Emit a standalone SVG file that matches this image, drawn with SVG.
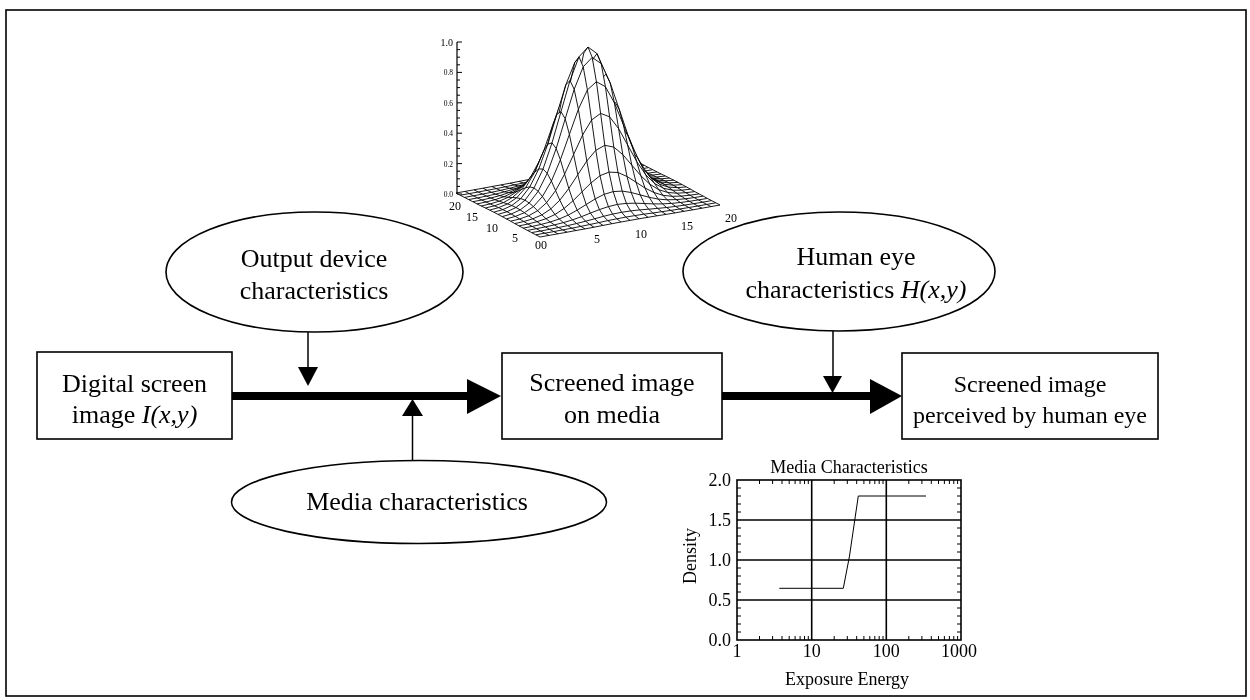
<svg xmlns="http://www.w3.org/2000/svg" width="1250" height="700" viewBox="0 0 1250 700">
<defs>
<style>
.t{font-family:"Liberation Serif","Times New Roman",serif;font-size:26px;text-anchor:middle;fill:#000}
.t24{font-size:24px}
.c{font-family:"Liberation Serif","Times New Roman",serif;font-size:18px;fill:#000}
.s{font-family:"Liberation Serif","Times New Roman",serif;font-size:12px;text-anchor:middle;fill:#000}
.z{font-family:"Liberation Serif","Times New Roman",serif;font-size:7.5px;text-anchor:end;fill:#000}
.box{fill:#fff;stroke:#000;stroke-width:1.6}
.ell{fill:#fff;stroke:#000;stroke-width:1.6}
.thick{stroke:#000;stroke-width:8;fill:none}
.thin{stroke:#000;stroke-width:1.5;fill:none}
.head{fill:#000;stroke:none}
.m{fill:#fff;stroke:#000;stroke-width:0.9;stroke-linejoin:round}
.blend{mix-blend-mode:multiply}
.ax{stroke:#000;stroke-width:1.2;fill:none}
.grid{stroke:#000;stroke-width:1.6;fill:none}
.tick{stroke:#000;stroke-width:1;fill:none}
</style>
</defs>
<rect x="0" y="0" width="1250" height="700" fill="#fff"/>
<rect x="6" y="10" width="1240" height="686" fill="none" stroke="#000" stroke-width="1.6"/>

<g id="surface-plot">
<g id="rows">
<polyline class="m" points="456,193 465,191.4 474,189.8 483,188.2 492,186.5 501,184.9 510,183.2 519,181.4 528,179.7 537,178 546,176.4 555,174.8 564,173.3 573,171.8 582,170.4 591,168.9 600,167.3 609,165.8 618,164.2 627,162.6 636,161"/>
<polyline class="m" points="460.2,195.2 469.2,193.6 478.2,192 487.2,190.3 496.2,188.6 505.2,186.8 514.2,184.9 523.2,183 532.2,181 541.2,179.2 550.2,177.5 559.2,176 568.2,174.6 577.2,173.4 586.2,172.1 595.2,170.8 604.2,169.4 613.2,167.9 622.2,166.4 631.2,164.8 640.2,163.2"/>
<polyline class="m" points="464.4,197.4 473.4,195.8 482.4,194.1 491.4,192.3 500.4,190.4 509.4,188.3 518.4,186 527.4,183.6 536.4,181.1 545.4,178.9 554.4,177.1 563.4,175.7 572.4,174.7 581.4,174 590.4,173.2 599.4,172.3 608.4,171.2 617.4,169.9 626.4,168.5 635.4,167 644.4,165.4"/>
<polyline class="m" points="468.6,199.6 477.6,197.9 486.6,196.1 495.6,194.1 504.6,191.8 513.6,189.1 522.6,185.9 531.6,182.3 540.6,178.8 549.6,175.8 558.6,173.6 567.6,172.6 576.6,172.4 585.6,172.7 594.6,173.1 603.6,173.1 612.6,172.6 621.6,171.7 630.6,170.5 639.6,169.1 648.6,167.6"/>
<polyline class="m" points="472.8,201.7 481.8,200 490.8,198 499.8,195.6 508.8,192.6 517.8,188.7 526.8,183.7 535.8,178.1 544.8,172.5 553.8,167.9 562.8,165.2 571.8,164.7 580.8,166.1 589.8,168.5 598.8,170.9 607.8,172.7 616.8,173.4 625.8,173.2 634.8,172.4 643.8,171.2 652.8,169.7"/>
<polyline class="m" points="477,203.9 486,202 495,199.7 504,196.7 513,192.5 522,186.5 531,178.8 540,169.8 549,160.9 558,153.7 567,150.1 576,150.5 585,154.5 594,160.2 603,166 612,170.5 621,173.3 630,174.3 639,174.1 648,173.2 657,171.9"/>
<polyline class="m" points="481.2,206 490.2,203.9 499.2,201.2 508.2,197.3 517.2,191.3 526.2,182.6 535.2,170.9 544.2,157.1 553.2,143.4 562.2,132.7 571.2,127.7 580.2,129.5 589.2,137 598.2,147.5 607.2,158.1 616.2,166.6 625.2,172.1 634.2,174.9 643.2,175.6 652.2,175.1 661.2,174"/>
<polyline class="m" points="485.4,208 494.4,205.8 503.4,202.6 512.4,197.5 521.4,189.5 530.4,177.4 539.4,160.9 548.4,141.3 557.4,121.8 566.4,106.8 575.4,100.2 584.4,103.6 593.4,115.4 602.4,131.7 611.4,148.1 620.4,161.4 629.4,170.3 638.4,175.1 647.4,177 656.4,177 665.4,176"/>
<polyline class="m" points="489.6,210.1 498.6,207.6 507.6,203.9 516.6,197.8 525.6,187.7 534.6,172.3 543.6,151 552.6,125.6 561.6,100.4 570.6,81.1 579.6,72.9 588.6,77.9 597.6,94 606.6,116 615.6,138.2 624.6,156.3 633.6,168.5 642.6,175.4 651.6,178.3 660.6,178.8 669.6,178.1"/>
<polyline class="m" points="493.8,212.2 502.8,209.6 511.8,205.5 520.8,198.6 529.8,186.9 538.8,168.9 547.8,144.1 556.8,114.4 565.8,84.9 574.8,62.4 583.8,53 592.8,59.2 601.8,78.5 610.8,104.8 619.8,131.3 628.8,152.9 637.8,167.7 646.8,176.2 655.8,179.9 664.8,180.8 673.8,180.2"/>
<polyline class="m" points="498,214.4 507,211.7 516,207.5 525,200.2 534,188 543,169.1 552,142.9 561,111.6 570,80.5 579,56.8 588,47 597,53.6 606,74.1 615,102 624,130.1 633,153.1 642,168.8 651,177.8 660,181.9 669,182.9 678,182.4"/>
<polyline class="m" points="502.2,216.6 511.2,214 520.2,209.9 529.2,203 538.2,191.3 547.2,173.3 556.2,148.5 565.2,118.8 574.2,89.3 583.2,66.8 592.2,57.4 601.2,63.6 610.2,82.9 619.2,109.2 628.2,135.7 637.2,157.3 646.2,172.1 655.2,180.6 664.2,184.3 673.2,185.2 682.2,184.6"/>
<polyline class="m" points="506.4,218.9 515.4,216.4 524.4,212.7 533.4,206.6 542.4,196.5 551.4,181.1 560.4,159.8 569.4,134.4 578.4,109.2 587.4,89.9 596.4,81.7 605.4,86.7 614.4,102.8 623.4,124.8 632.4,147 641.4,165.1 650.4,177.3 659.4,184.2 668.4,187.1 677.4,187.6 686.4,186.9"/>
<polyline class="m" points="510.6,221.2 519.6,219 528.6,215.8 537.6,210.7 546.6,202.7 555.6,190.6 564.6,174.1 573.6,154.5 582.6,135 591.6,120 600.6,113.4 609.6,116.8 618.6,128.6 627.6,144.9 636.6,161.3 645.6,174.6 654.6,183.5 663.6,188.3 672.6,190.2 681.6,190.2 690.6,189.2"/>
<polyline class="m" points="514.8,223.6 523.8,221.5 532.8,218.8 541.8,214.9 550.8,208.9 559.8,200.2 568.8,188.5 577.8,174.7 586.8,161 595.8,150.3 604.8,145.3 613.8,147.1 622.8,154.6 631.8,165.1 640.8,175.7 649.8,184.2 658.8,189.7 667.8,192.5 676.8,193.2 685.8,192.7 694.8,191.6"/>
<polyline class="m" points="519,225.9 528,224 537,221.7 546,218.7 555,214.5 564,208.5 573,200.8 582,191.8 591,182.9 600,175.7 609,172.1 618,172.5 627,176.5 636,182.2 645,188 654,192.5 663,195.3 672,196.3 681,196.1 690,195.2 699,193.9"/>
<polyline class="m" points="523.2,228.1 532.2,226.4 541.2,224.4 550.2,222 559.2,219 568.2,215.1 577.2,210.1 586.2,204.5 595.2,198.9 604.2,194.3 613.2,191.6 622.2,191.1 631.2,192.5 640.2,194.9 649.2,197.3 658.2,199.1 667.2,199.8 676.2,199.6 685.2,198.8 694.2,197.6 703.2,196.1"/>
<polyline class="m" points="527.4,230.4 536.4,228.7 545.4,226.9 554.4,224.9 563.4,222.6 572.4,219.9 581.4,216.7 590.4,213.1 599.4,209.6 608.4,206.6 617.4,204.4 626.4,203.4 635.4,203.2 644.4,203.5 653.4,203.9 662.4,203.9 671.4,203.4 680.4,202.5 689.4,201.3 698.4,199.9 707.4,198.4"/>
<polyline class="m" points="531.6,232.6 540.6,231 549.6,229.3 558.6,227.5 567.6,225.6 576.6,223.5 585.6,221.2 594.6,218.8 603.6,216.3 612.6,214.1 621.6,212.3 630.6,210.9 639.6,209.9 648.6,209.2 657.6,208.4 666.6,207.5 675.6,206.4 684.6,205.1 693.6,203.7 702.6,202.2 711.6,200.6"/>
<polyline class="m" points="535.8,234.8 544.8,233.2 553.8,231.6 562.8,229.9 571.8,228.2 580.8,226.4 589.8,224.5 598.8,222.6 607.8,220.6 616.8,218.8 625.8,217.1 634.8,215.6 643.8,214.2 652.8,213 661.8,211.7 670.8,210.4 679.8,209 688.8,207.5 697.8,206 706.8,204.4 715.8,202.8"/>
<polyline class="m" points="540,237 549,235.4 558,233.8 567,232.2 576,230.5 585,228.9 594,227.2 603,225.4 612,223.7 621,222 630,220.4 639,218.8 648,217.3 657,215.8 666,214.4 675,212.9 684,211.3 693,209.8 702,208.2 711,206.6 720,205"/>
</g>
<g id="columns" class="blend">
<polyline class="m" points="720,205 715.8,202.8 711.6,200.6 707.4,198.4 703.2,196.1 699,193.9 694.8,191.6 690.6,189.2 686.4,186.9 682.2,184.6 678,182.4 673.8,180.2 669.6,178.1 665.4,176 661.2,174 657,171.9 652.8,169.7 648.6,167.6 644.4,165.4 640.2,163.2 636,161"/>
<polyline class="m" points="711,206.6 706.8,204.4 702.6,202.2 698.4,199.9 694.2,197.6 690,195.2 685.8,192.7 681.6,190.2 677.4,187.6 673.2,185.2 669,182.9 664.8,180.8 660.6,178.8 656.4,177 652.2,175.1 648,173.2 643.8,171.2 639.6,169.1 635.4,167 631.2,164.8 627,162.6"/>
<polyline class="m" points="702,208.2 697.8,206 693.6,203.7 689.4,201.3 685.2,198.8 681,196.1 676.8,193.2 672.6,190.2 668.4,187.1 664.2,184.3 660,181.9 655.8,179.9 651.6,178.3 647.4,177 643.2,175.6 639,174.1 634.8,172.4 630.6,170.5 626.4,168.5 622.2,166.4 618,164.2"/>
<polyline class="m" points="693,209.8 688.8,207.5 684.6,205.1 680.4,202.5 676.2,199.6 672,196.3 667.8,192.5 663.6,188.3 659.4,184.2 655.2,180.6 651,177.8 646.8,176.2 642.6,175.4 638.4,175.1 634.2,174.9 630,174.3 625.8,173.2 621.6,171.7 617.4,169.9 613.2,167.9 609,165.8"/>
<polyline class="m" points="684,211.3 679.8,209 675.6,206.4 671.4,203.4 667.2,199.8 663,195.3 658.8,189.7 654.6,183.5 650.4,177.3 646.2,172.1 642,168.8 637.8,167.7 633.6,168.5 629.4,170.3 625.2,172.1 621,173.3 616.8,173.4 612.6,172.6 608.4,171.2 604.2,169.4 600,167.3"/>
<polyline class="m" points="675,212.9 670.8,210.4 666.6,207.5 662.4,203.9 658.2,199.1 654,192.5 649.8,184.2 645.6,174.6 641.4,165.1 637.2,157.3 633,153.1 628.8,152.9 624.6,156.3 620.4,161.4 616.2,166.6 612,170.5 607.8,172.7 603.6,173.1 599.4,172.3 595.2,170.8 591,168.9"/>
<polyline class="m" points="666,214.4 661.8,211.7 657.6,208.4 653.4,203.9 649.2,197.3 645,188 640.8,175.7 636.6,161.3 632.4,147 628.2,135.7 624,130.1 619.8,131.3 615.6,138.2 611.4,148.1 607.2,158.1 603,166 598.8,170.9 594.6,173.1 590.4,173.2 586.2,172.1 582,170.4"/>
<polyline class="m" points="657,215.8 652.8,213 648.6,209.2 644.4,203.5 640.2,194.9 636,182.2 631.8,165.1 627.6,144.9 623.4,124.8 619.2,109.2 615,102 610.8,104.8 606.6,116 602.4,131.7 598.2,147.5 594,160.2 589.8,168.5 585.6,172.7 581.4,174 577.2,173.4 573,171.8"/>
<polyline class="m" points="648,217.3 643.8,214.2 639.6,209.9 635.4,203.2 631.2,192.5 627,176.5 622.8,154.6 618.6,128.6 614.4,102.8 610.2,82.9 606,74.1 601.8,78.5 597.6,94 593.4,115.4 589.2,137 585,154.5 580.8,166.1 576.6,172.4 572.4,174.7 568.2,174.6 564,173.3"/>
<polyline class="m" points="639,218.8 634.8,215.6 630.6,210.9 626.4,203.4 622.2,191.1 618,172.5 613.8,147.1 609.6,116.8 605.4,86.7 601.2,63.6 597,53.6 592.8,59.2 588.6,77.9 584.4,103.6 580.2,129.5 576,150.5 571.8,164.7 567.6,172.6 563.4,175.7 559.2,176 555,174.8"/>
<polyline class="m" points="630,220.4 625.8,217.1 621.6,212.3 617.4,204.4 613.2,191.6 609,172.1 604.8,145.3 600.6,113.4 596.4,81.7 592.2,57.4 588,47 583.8,53 579.6,72.9 575.4,100.2 571.2,127.7 567,150.1 562.8,165.2 558.6,173.6 554.4,177.1 550.2,177.5 546,176.4"/>
<polyline class="m" points="621,222 616.8,218.8 612.6,214.1 608.4,206.6 604.2,194.3 600,175.7 595.8,150.3 591.6,120 587.4,89.9 583.2,66.8 579,56.8 574.8,62.4 570.6,81.1 566.4,106.8 562.2,132.7 558,153.7 553.8,167.9 549.6,175.8 545.4,178.9 541.2,179.2 537,178"/>
<polyline class="m" points="612,223.7 607.8,220.6 603.6,216.3 599.4,209.6 595.2,198.9 591,182.9 586.8,161 582.6,135 578.4,109.2 574.2,89.3 570,80.5 565.8,84.9 561.6,100.4 557.4,121.8 553.2,143.4 549,160.9 544.8,172.5 540.6,178.8 536.4,181.1 532.2,181 528,179.7"/>
<polyline class="m" points="603,225.4 598.8,222.6 594.6,218.8 590.4,213.1 586.2,204.5 582,191.8 577.8,174.7 573.6,154.5 569.4,134.4 565.2,118.8 561,111.6 556.8,114.4 552.6,125.6 548.4,141.3 544.2,157.1 540,169.8 535.8,178.1 531.6,182.3 527.4,183.6 523.2,183 519,181.4"/>
<polyline class="m" points="594,227.2 589.8,224.5 585.6,221.2 581.4,216.7 577.2,210.1 573,200.8 568.8,188.5 564.6,174.1 560.4,159.8 556.2,148.5 552,142.9 547.8,144.1 543.6,151 539.4,160.9 535.2,170.9 531,178.8 526.8,183.7 522.6,185.9 518.4,186 514.2,184.9 510,183.2"/>
<polyline class="m" points="585,228.9 580.8,226.4 576.6,223.5 572.4,219.9 568.2,215.1 564,208.5 559.8,200.2 555.6,190.6 551.4,181.1 547.2,173.3 543,169.1 538.8,168.9 534.6,172.3 530.4,177.4 526.2,182.6 522,186.5 517.8,188.7 513.6,189.1 509.4,188.3 505.2,186.8 501,184.9"/>
<polyline class="m" points="576,230.5 571.8,228.2 567.6,225.6 563.4,222.6 559.2,219 555,214.5 550.8,208.9 546.6,202.7 542.4,196.5 538.2,191.3 534,188 529.8,186.9 525.6,187.7 521.4,189.5 517.2,191.3 513,192.5 508.8,192.6 504.6,191.8 500.4,190.4 496.2,188.6 492,186.5"/>
<polyline class="m" points="567,232.2 562.8,229.9 558.6,227.5 554.4,224.9 550.2,222 546,218.7 541.8,214.9 537.6,210.7 533.4,206.6 529.2,203 525,200.2 520.8,198.6 516.6,197.8 512.4,197.5 508.2,197.3 504,196.7 499.8,195.6 495.6,194.1 491.4,192.3 487.2,190.3 483,188.2"/>
<polyline class="m" points="558,233.8 553.8,231.6 549.6,229.3 545.4,226.9 541.2,224.4 537,221.7 532.8,218.8 528.6,215.8 524.4,212.7 520.2,209.9 516,207.5 511.8,205.5 507.6,203.9 503.4,202.6 499.2,201.2 495,199.7 490.8,198 486.6,196.1 482.4,194.1 478.2,192 474,189.8"/>
<polyline class="m" points="549,235.4 544.8,233.2 540.6,231 536.4,228.7 532.2,226.4 528,224 523.8,221.5 519.6,219 515.4,216.4 511.2,214 507,211.7 502.8,209.6 498.6,207.6 494.4,205.8 490.2,203.9 486,202 481.8,200 477.6,197.9 473.4,195.8 469.2,193.6 465,191.4"/>
<polyline class="m" points="540,237 535.8,234.8 531.6,232.6 527.4,230.4 523.2,228.1 519,225.9 514.8,223.6 510.6,221.2 506.4,218.9 502.2,216.6 498,214.4 493.8,212.2 489.6,210.1 485.4,208 481.2,206 477,203.9 472.8,201.7 468.6,199.6 464.4,197.4 460.2,195.2 456,193"/>
</g>
<path class="ax" d="M457,194 V42"/>
<path class="tick" d="M457,194h5M457,163.6h5M457,133.2h5M457,102.8h5M457,72.4h5M457,42h5M457,186.4h3M457,178.8h3M457,171.2h3M457,156h3M457,148.4h3M457,140.8h3M457,125.6h3M457,118h3M457,110.4h3M457,95.2h3M457,87.6h3M457,80h3M457,64.8h3M457,57.2h3M457,49.6h3"/>
<text class="z" x="453" y="45.5" style="font-size:10px">1.0</text>
<text class="z" x="453" y="75">0.8</text>
<text class="z" x="453" y="105.5">0.6</text>
<text class="z" x="453" y="136">0.4</text>
<text class="z" x="453" y="166.5">0.2</text>
<text class="z" x="453" y="197">0.0</text>
<text class="s" x="455" y="210">20</text>
<text class="s" x="472" y="221">15</text>
<text class="s" x="492" y="232">10</text>
<text class="s" x="515" y="242">5</text>
<text class="s" x="541" y="249">00</text>
<text class="s" x="597" y="243">5</text>
<text class="s" x="641" y="238">10</text>
<text class="s" x="687" y="230">15</text>
<text class="s" x="731" y="222">20</text>
</g>

<g id="media-chart">
<path class="grid" d="M737,520H961M737,560H961M737,600H961M811.7,480V640M886.3,480V640"/>
<path class="tick" d="M737,632h4M737,624h4M737,616h4M737,608h4M737,592h4M737,584h4M737,576h4M737,568h4M737,552h4M737,544h4M737,536h4M737,528h4M737,512h4M737,504h4M737,496h4M737,488h4M961,632h-4M961,624h-4M961,616h-4M961,608h-4M961,592h-4M961,584h-4M961,576h-4M961,568h-4M961,552h-4M961,544h-4M961,536h-4M961,528h-4M961,512h-4M961,504h-4M961,496h-4M961,488h-4"/>
<path class="tick" d="M759.5,640v-4M772.6,640v-4M782,640v-4M789.2,640v-4M795.1,640v-4M800.1,640v-4M804.5,640v-4M808.3,640v-4M834.2,640v-4M847.3,640v-4M856.7,640v-4M863.9,640v-4M869.8,640v-4M874.8,640v-4M879.2,640v-4M883,640v-4M908.8,640v-4M921.9,640v-4M931.3,640v-4M938.5,640v-4M944.4,640v-4M949.4,640v-4M953.8,640v-4M957.6,640v-4M759.5,480v4M772.6,480v4M782,480v4M789.2,480v4M795.1,480v4M800.1,480v4M804.5,480v4M808.3,480v4M834.2,480v4M847.3,480v4M856.7,480v4M863.9,480v4M869.8,480v4M874.8,480v4M879.2,480v4M883,480v4M908.8,480v4M921.9,480v4M931.3,480v4M938.5,480v4M944.4,480v4M949.4,480v4M953.8,480v4M957.6,480v4"/>
<rect x="737" y="480" width="224" height="160" fill="none" stroke="#000" stroke-width="1.6"/>
<polyline points="779.3,588.3 843.3,588.3 849.5,556 858.3,496 926,496" fill="none" stroke="#000" stroke-width="1"/>
<text class="c" x="849" y="472.5" text-anchor="middle">Media Characteristics</text>
<text class="c" x="731" y="486" text-anchor="end">2.0</text>
<text class="c" x="731" y="526" text-anchor="end">1.5</text>
<text class="c" x="731" y="566" text-anchor="end">1.0</text>
<text class="c" x="731" y="606" text-anchor="end">0.5</text>
<text class="c" x="731" y="646" text-anchor="end">0.0</text>
<text class="c" x="737" y="656.5" text-anchor="middle">1</text>
<text class="c" x="811.7" y="656.5" text-anchor="middle">10</text>
<text class="c" x="886.3" y="656.5" text-anchor="middle">100</text>
<text class="c" x="959" y="656.5" text-anchor="middle">1000</text>
<text class="c" x="847" y="685" text-anchor="middle">Exposure Energy</text>
<text class="c" transform="translate(696,556) rotate(-90)" text-anchor="middle">Density</text>
</g>

<g id="connectors">
<line class="thick" x1="232" y1="396" x2="468" y2="396"/>
<polygon class="head" points="467,379 501,396 467,414"/>
<line class="thick" x1="722" y1="396" x2="871" y2="396"/>
<polygon class="head" points="870,379 902,396 870,414"/>
<line class="thin" x1="308" y1="332" x2="308" y2="368"/>
<polygon class="head" points="298,367 318,367 308,386"/>
<line class="thin" x1="412.5" y1="461" x2="412.5" y2="415"/>
<polygon class="head" points="402,416 423,416 412.5,399"/>
<line class="thin" x1="833" y1="331" x2="833" y2="377"/>
<polygon class="head" points="823,376 842,376 832.5,393"/>
</g>

<g id="node-digital">
<rect class="box" x="37" y="352" width="195" height="87"/>
<text class="t" x="134.5" y="391.5">Digital screen</text>
<text class="t" x="134.5" y="423">image <tspan font-style="italic">I(x,y)</tspan></text>
</g>
<g id="node-media-image">
<rect class="box" x="502" y="353" width="220" height="86"/>
<text class="t" x="612" y="390.5">Screened image</text>
<text class="t" x="612" y="423">on media</text>
</g>
<g id="node-perceived">
<rect class="box" x="902" y="353" width="256" height="86"/>
<text class="t t24" x="1030" y="392">Screened image</text>
<text class="t t24" x="1030" y="423">perceived by human eye</text>
</g>
<g id="node-output-device">
<ellipse class="ell" cx="314.5" cy="272" rx="148.5" ry="60"/>
<text class="t" x="314" y="267">Output device</text>
<text class="t" x="314" y="299">characteristics</text>
</g>
<g id="node-human-eye">
<ellipse class="ell" cx="839" cy="271.5" rx="156" ry="59.5"/>
<text class="t" x="856" y="265">Human eye</text>
<text class="t" x="856" y="298">characteristics <tspan font-style="italic">H(x,y)</tspan></text>
</g>
<g id="node-media-char">
<ellipse class="ell" cx="419" cy="502" rx="187.5" ry="41.5"/>
<text class="t" x="417" y="510">Media characteristics</text>
</g>
</svg>
